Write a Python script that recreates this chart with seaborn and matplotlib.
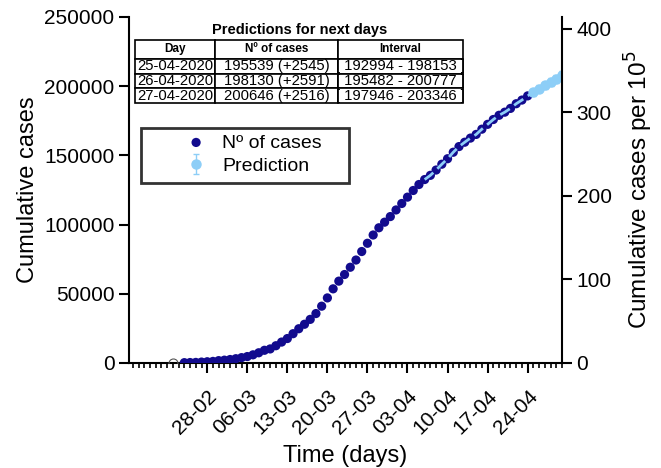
import numpy as np
import pandas as pd
import matplotlib
matplotlib.use('Agg')
import matplotlib.pyplot as plt
import matplotlib.dates as mdates
from matplotlib.patches import Rectangle
import seaborn as sns

sns.set_style('ticks')
plt.rcParams['font.family'] = ['Liberation Sans', 'DejaVu Sans']
plt.rcParams.update({
    'text.color': 'black',
    'axes.labelcolor': 'black',
    'axes.edgecolor': 'black',
    'xtick.color': 'black',
    'ytick.color': 'black',
})

DARK = '#120B8E'
LIGHT = '#8DCEF7'
POP_1E5 = 603.6  # population / 1e5

# ---- data ----
case_dates = pd.date_range('2020-02-24', '2020-04-24')
cases = [229, 322, 400, 650, 888, 1128,
         1694, 2036, 2502, 3089, 3858, 4636, 5883, 7375, 9172, 10149,
         12462, 15113, 17660, 21157, 24747, 27980, 31506, 35713, 41035,
         47021, 53578, 59138, 63927, 69176, 74386, 80539, 86498, 92472,
         97689, 101739, 105792,
         110574, 115242, 119827, 124632, 128948, 132547, 135586, 139422,
         143626, 147577, 152271, 156363, 159516, 162488, 165155, 168941,
         172434, 175925, 178972, 181228, 183957, 187327, 189973, 192994]

excluded_date = pd.Timestamp('2020-02-22')
excluded_value = 0

pred_dates = pd.to_datetime(['2020-04-25', '2020-04-26', '2020-04-27',
                             '2020-04-28', '2020-04-29', '2020-04-30'])
pred_cases = [195539, 198130, 200646, 203080, 205450, 207760]
pred_low = [192994, 195482, 197946, 200300, 202600, 204850]
pred_high = [198153, 200777, 203346, 205860, 208300, 210700]

fit_start = pd.Timestamp('2020-04-06')

tick_dates = pd.to_datetime(['2020-02-28', '2020-03-06', '2020-03-13',
                             '2020-03-20', '2020-03-27', '2020-04-03',
                             '2020-04-10', '2020-04-17', '2020-04-24'])
tick_labels = ['28-02', '06-03', '13-03', '20-03', '27-03',
               '03-04', '10-04', '17-04', '24-04']

table_days = ['25-04-2020', '26-04-2020', '27-04-2020']

# ---- figure ----
fig = plt.figure(figsize=(6.61, 4.68), dpi=100)
ax = fig.add_axes([0.1952, 0.2244, 0.655, 0.7393])

sns.scatterplot(x=case_dates, y=cases, ax=ax, color=DARK, s=44,
                edgecolor='none', label='Nº of cases', zorder=3)

# fitted curve (dashed) over the last part + predictions
obs = pd.Series(cases, index=case_dates)
fit = pd.concat([obs[obs.index >= fit_start],
                 pd.Series(pred_cases, index=pred_dates)])
sns.lineplot(x=fit.index, y=fit.values, ax=ax, color=LIGHT, lw=2,
             linestyle=(0, (4, 2)), zorder=4, legend=False)

yerr = [np.array(pred_cases) - np.array(pred_low),
        np.array(pred_high) - np.array(pred_cases)]
ax.errorbar(pred_dates, pred_cases, yerr=yerr, fmt='o', color=LIGHT,
            ms=6.5, capsize=2.5, elinewidth=1, label='Prediction', zorder=3)

ax.plot(excluded_date, excluded_value, 'o', mfc='none', mec='#555555',
        ms=6.5, mew=0.8, zorder=3)

ax.set_xlim(pd.Timestamp('2020-02-14 08:00'), pd.Timestamp('2020-04-30'))
ax.set_ylim(0, 250000)
ax.set_yticks(range(0, 250001, 50000))
ax.set_xticks(tick_dates)
ax.set_xticklabels(tick_labels, rotation=45, ha='right',
                   rotation_mode='anchor')
ax.xaxis.set_minor_locator(mdates.DayLocator())
ax.tick_params(axis='both', which='major', width=1.5, length=7,
               labelsize=15)
ax.tick_params(axis='x', which='major', pad=10)
ax.tick_params(axis='x', which='minor', width=1.2, length=3.5)
ax.set_xlabel('Time (days)', fontsize=17, labelpad=5)
ax.set_ylabel('Cumulative cases', fontsize=17)
for s in ['left', 'bottom']:
    ax.spines[s].set_linewidth(1.5)
ax.spines['top'].set_visible(False)
ax.spines['right'].set_visible(False)

ax2 = ax.twinx()
ax2.set_ylim(0, 250000 / POP_1E5)
ax2.set_yticks(range(0, 401, 100))
ax2.tick_params(axis='y', width=1.5, length=7, labelsize=15)
ax2.set_ylabel('Cumulative cases per 10$^5$', fontsize=17.5, labelpad=8)
ax2.spines['right'].set_linewidth(1.5)
for s in ['top', 'left', 'bottom']:
    ax2.spines[s].set_visible(False)

# legend box drawn separately so its size matches
ax.add_patch(Rectangle((0.028, 0.520), 0.48, 0.159, transform=ax.transAxes,
                       facecolor='white', edgecolor='#333333', lw=2,
                       zorder=9))
leg = ax.legend(loc='upper left', bbox_to_anchor=(0.110, 0.662),
                fontsize=14, frameon=False, handlelength=2.0,
                handletextpad=0.33, borderpad=0, labelspacing=0.3,
                borderaxespad=0)
leg.set_zorder(10)

# prediction table
prev = [cases[-1]] + pred_cases
rows = [[d, f'{pred_cases[i]} (+{pred_cases[i] - prev[i]})',
         f'[ {pred_low[i]} - {pred_high[i]} ]']
        for i, d in enumerate(table_days)]
tbl = ax.table(cellText=rows, colLabels=['Day', 'Nº of cases', 'Interval'],
               colWidths=[0.244, 0.375, 0.381], cellLoc='center',
               bbox=[0.014, 0.751, 0.757, 0.183])
tbl.auto_set_font_size(False)
for (r, c), cell in tbl.get_celld().items():
    cell.set_linewidth(1.2)
    cell.set_facecolor('white')
    cell.PAD = 0.02
    if r == 0:
        cell.set_height(cell.get_height() * 1.3)
        cell.get_text().set_fontsize(8.5)
        cell.get_text().set_fontweight('bold')
    else:
        cell.get_text().set_fontsize(10.7)
tbl.set_zorder(10)
ax.text(0.395, 0.962, 'Predictions for next days', transform=ax.transAxes,
        ha='center', va='center', fontsize=10.5, fontweight='bold')

fig.savefig('out.png', dpi=100)
